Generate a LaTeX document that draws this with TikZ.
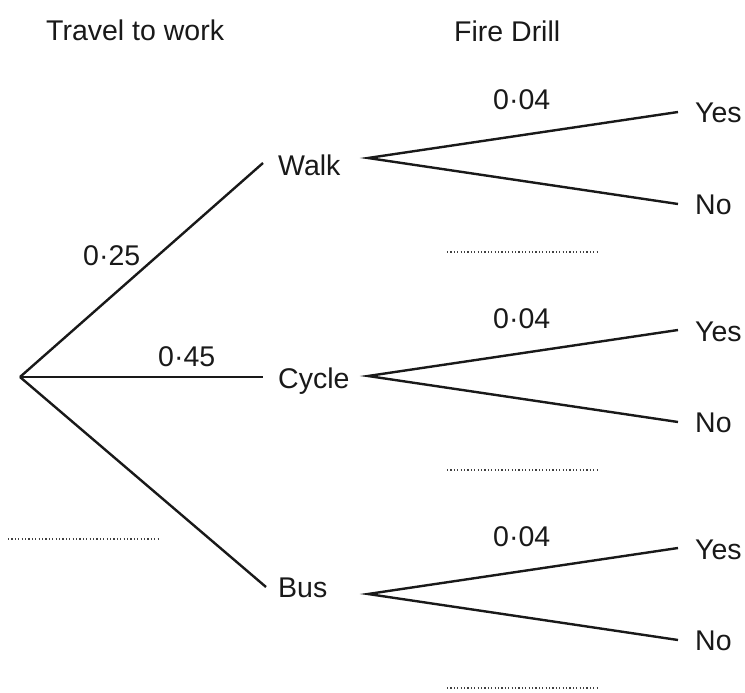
\documentclass[tikz,border=0pt]{standalone}
\usepackage{fontspec}
\setmainfont{Liberation Sans}
\begin{document}
\begin{tikzpicture}[x=1pt,y=-1pt,
  lbl/.style={anchor=base west,inner sep=0pt,font=\fontsize{28.5}{32}\selectfont,text=black!90},
  branch/.style={line width=2.4pt,black!90,line cap=butt},
  answer/.style={line width=1.1pt,black!75,dash pattern=on 1.1pt off 2.3pt}]
\useasboundingbox (0,0) rectangle (745,693);
% headings
\node[lbl] (h1) at (46,41) {Travel to work};
\node[lbl] (h2) at (454,42) {Fire Drill};
% first stage
\coordinate (root) at (20,377);
\coordinate (walkend) at (263,163);
\coordinate (cycleend) at (263,377);
\coordinate (busend) at (266,587);
\node[lbl] (walk) at (278,175) {Walk};
\node[lbl] (cycle) at (278,388) {Cycle};
\node[lbl] (bus) at (278,597) {Bus};
\draw[branch] (root) -- (walkend);
\draw[branch] (root) -- (cycleend);
\draw[branch] (root) -- (busend);
\node[lbl] (p1) at (83,265) {0·25};
\node[lbl] (p2) at (158,366) {0·45};
\coordinate (d0a) at (8,539);
\coordinate (d0b) at (158,539);
\draw[answer] (d0a) -- (d0b);
% second stage
\foreach \n/\dy in {w/0,c/218,b/436}{
  \coordinate (\n v) at (368,158+\dy);
  \coordinate (\n y) at (678,112+\dy);
  \coordinate (\n n) at (678,204+\dy);
  \draw[branch] (\n y) -- (\n v) -- (\n n);
  \node[lbl] (\n yes) at (695,123+\dy) {Yes};
  \node[lbl] (\n no) at (695,214+\dy) {No};
  \node[lbl] (\n p) at (493,110+\dy) {0·04};
  \coordinate (\n da) at (447,252+\dy);
  \coordinate (\n db) at (598,252+\dy);
  \draw[answer] (\n da) -- (\n db);
}
\end{tikzpicture}
\end{document}
